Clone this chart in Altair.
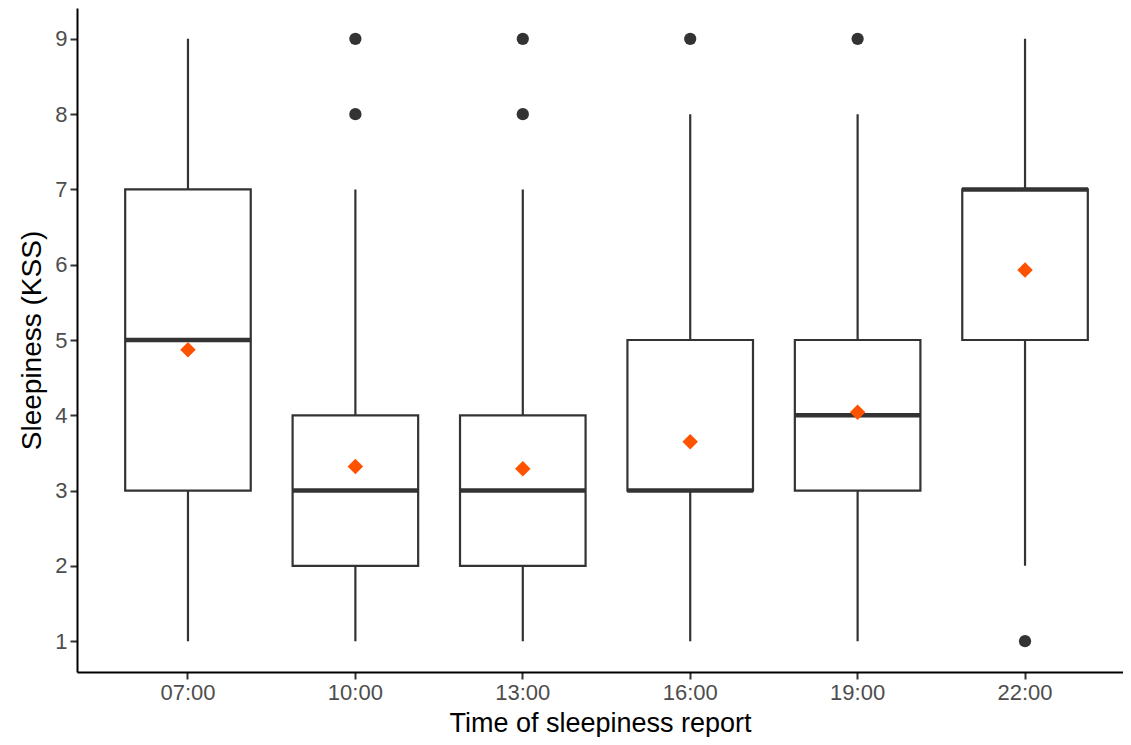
import altair as alt
import pandas as pd

times = ["07:00", "10:00", "13:00", "16:00", "19:00", "22:00"]
whisker_low = [1, 1, 1, 1, 1, 2]
q1 = [3, 2, 2, 3, 3, 5]
median = [5, 3, 3, 3, 4, 7]
q3 = [7, 4, 4, 5, 5, 7]
whisker_high = [9, 7, 7, 8, 8, 9]
means = [4.87, 3.32, 3.29, 3.65, 4.04, 5.93]

outlier_times = ["10:00", "10:00", "13:00", "13:00", "16:00", "19:00", "22:00"]
outlier_values = [8, 9, 8, 9, 9, 9, 1]

y_ticks = [1, 2, 3, 4, 5, 6, 7, 8, 9]

stats = pd.DataFrame({
    "time": times, "lo": whisker_low, "q1": q1, "med": median,
    "q3": q3, "hi": whisker_high, "mean": means,
})
outl = pd.DataFrame({"time": outlier_times, "value": outlier_values})

FONT = "Liberation Sans"
DARK = "#333333"

xscale = alt.Scale(domain=times, paddingInner=0.25, paddingOuter=0.249, align=0.578)
yscale = alt.Scale(domain=[0.59, 9.41], nice=False, zero=False)

x_enc = alt.X("time:N", scale=xscale, sort=times,
              axis=alt.Axis(title="Time of sleepiness report", labelAngle=0,
                            titleBaseline="alphabetic", titleY=59, titleFontSize=27))
y_axis = alt.Axis(title="Sleepiness (KSS)", values=y_ticks, format="d")

base = alt.Chart(stats)

whisk = base.mark_rule(color=DARK, strokeWidth=2.2).encode(
    x=x_enc,
    y=alt.Y("lo:Q", scale=yscale, axis=y_axis),
    y2="hi:Q",
)
box = base.mark_bar(fill="white", stroke=DARK, strokeWidth=2.2).encode(
    x=x_enc,
    y=alt.Y("q1:Q", scale=yscale),
    y2="q3:Q",
)
med = base.mark_tick(color=DARK, thickness=4.5, size=126, opacity=1).encode(
    x=x_enc,
    y=alt.Y("med:Q", scale=yscale),
)
pts = alt.Chart(outl).mark_circle(color=DARK, size=150, opacity=1).encode(
    x=x_enc,
    y=alt.Y("value:Q", scale=yscale),
)
mn = base.mark_point(shape="diamond", filled=True, color="#FF5200", size=240, opacity=1).encode(
    x=x_enc,
    y=alt.Y("mean:Q", scale=yscale),
)

chart = alt.layer(whisk, box, med, pts, mn).properties(
    width=1046, height=664,
    autosize=alt.AutoSizeParams(type="none"),
    padding={"left": 69, "top": 0, "right": 0, "bottom": 65},
).configure_view(stroke="transparent").configure_axis(
    grid=False,
    domainColor="black", domainWidth=2,
    tickColor=DARK, tickWidth=2, tickSize=7,
    labelFont=FONT, labelFontSize=22, labelColor="#4D4D4D", labelPadding=3,
    titleFont=FONT, titleFontSize=28, titleColor="black", titleFontWeight="normal",
).configure_axisY(titlePadding=8)

chart.save("out.html", embed_options={"renderer": "svg", "actions": False})
